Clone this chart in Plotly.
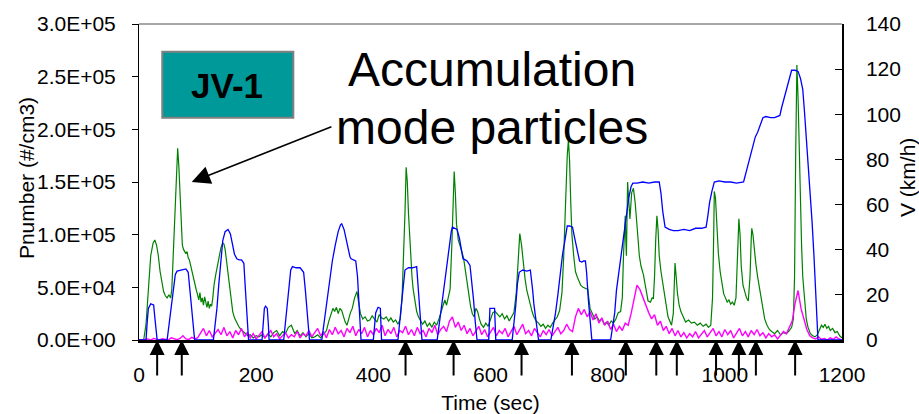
import plotly.graph_objects as go

FONT = "Liberation Sans, Arial, sans-serif"

# Accumulation-mode particle number (#/cm3): (time s, count)
green_points = [
    (0, 0), (8, 0), (12, 15000), (16, 50000), (20, 80000), (24, 92000), (27, 95000), (30, 90000),
    (33, 80000), (36, 65000), (39, 55000), (42, 46000), (45, 42000), (48, 40000), (51, 43000),
    (54, 40000), (56, 48000), (58, 76000), (61, 120000), (64, 160000), (66, 182000), (68, 165000),
    (70, 139000), (72, 110000), (74, 90000), (76, 86000), (78, 84000), (80, 82000), (82, 84000),
    (84, 78000), (86, 76000), (89, 68000), (92, 60000), (95, 52000), (98, 47000), (100, 43000),
    (102, 38000), (104, 45000), (106, 36000), (108, 40000), (110, 33000), (112, 41000), (114, 35000),
    (116, 31000), (118, 37000), (120, 30000), (122, 34000), (124, 32000), (126, 40000), (128, 52000),
    (131, 62000), (134, 70000), (137, 80000), (140, 88000), (143, 92000), (145, 91000), (147, 86000),
    (149, 76000), (151, 66000), (154, 51000), (157, 38000), (160, 27000), (163, 21000), (166, 17000),
    (170, 13000), (174, 10000), (178, 8000), (182, 6000), (186, 4000), (190, 5000), (195, 2000),
    (200, 4000), (205, 3000), (210, 5000), (215, 2000), (220, 6000), (225, 3000), (230, 7000),
    (235, 9000), (240, 4000), (245, 8000), (250, 6000), (255, 12000), (260, 14000), (263, 10000),
    (266, 6000), (270, 9000), (275, 4000), (280, 7000), (285, 3000), (290, 6000), (295, 2000),
    (300, 3000), (305, 5000), (310, 2000), (315, 6000), (320, 9000), (324, 18000), (328, 24000),
    (331, 30000), (334, 27000), (337, 31000), (340, 25000), (343, 30000), (346, 28000), (349, 22000),
    (352, 17000), (355, 14000), (358, 21000), (361, 26000), (364, 30000), (368, 40000), (372, 46000),
    (375, 35000), (378, 25000), (382, 20000), (386, 22000), (390, 18000), (394, 19000), (398, 23000),
    (402, 20000), (406, 17000), (410, 24000), (414, 21000), (418, 20000), (422, 22000), (426, 18000),
    (430, 21000), (434, 17000), (438, 19000), (442, 15000), (446, 20000), (449, 40000), (452, 80000),
    (454, 120000), (456, 164000), (458, 150000), (460, 120000), (462, 95000), (464, 75000),
    (466, 60000), (468, 48000), (471, 35000), (474, 27000), (477, 22000), (480, 19000), (484, 15000),
    (488, 18000), (492, 13000), (496, 16000), (500, 12000), (504, 17000), (508, 14000), (512, 20000),
    (516, 28000), (519, 34000), (522, 38000), (525, 33000), (528, 40000), (531, 48000), (534, 90000),
    (536, 130000), (538, 160000), (540, 140000), (542, 110000), (545, 95000), (548, 88000),
    (551, 84000), (554, 78000), (557, 66000), (560, 52000), (563, 40000), (566, 32000), (569, 25000),
    (572, 22000), (575, 30000), (578, 27000), (581, 20000), (584, 15000), (588, 12000), (592, 16000),
    (596, 13000), (600, 20000), (604, 26000), (608, 27000), (612, 24000), (616, 22000), (620, 25000),
    (624, 20000), (628, 23000), (632, 18000), (636, 22000), (640, 26000), (644, 45000), (647, 80000),
    (650, 101000), (653, 90000), (656, 72000), (659, 58000), (662, 47000), (665, 40000), (668, 32000),
    (671, 27000), (674, 22000), (678, 18000), (682, 16000), (686, 13000), (690, 15000), (694, 11000),
    (698, 14000), (702, 12000), (706, 16000), (710, 19000), (714, 22000), (718, 28000), (722, 45000),
    (725, 80000), (728, 130000), (731, 175000), (733, 190000), (735, 170000), (737, 130000),
    (739, 100000), (742, 80000), (745, 65000), (748, 60000), (751, 55000), (754, 52000), (758, 50000),
    (762, 49000), (766, 48000), (770, 30000), (774, 24000), (778, 20000), (782, 22000), (786, 18000),
    (790, 20000), (794, 15000), (798, 17000), (802, 14000), (806, 18000), (810, 16000), (814, 20000),
    (818, 26000), (822, 27000), (825, 40000), (827, 80000), (829, 110000), (830, 118000), (831, 95000),
    (832, 80000), (834, 150000), (836, 130000), (838, 115000), (841, 140000), (844, 144000),
    (847, 130000), (850, 112000), (852, 95000), (854, 80000), (857, 70000), (861, 62000), (865, 50000),
    (869, 37000), (873, 36000), (876, 40000), (878, 39000), (880, 60000), (882, 95000), (884, 118000),
    (886, 105000), (888, 80000), (891, 65000), (895, 50000), (899, 35000), (903, 22000), (906, 18000),
    (909, 14000), (912, 25000), (914, 60000), (915, 73000), (917, 60000), (919, 45000), (922, 33000),
    (925, 27000), (929, 22000), (933, 17000), (938, 19000), (943, 16000), (948, 17000), (953, 14000),
    (958, 16000), (963, 13000), (968, 15000), (972, 12000), (976, 14000), (979, 40000), (981, 100000),
    (982, 141000), (984, 135000), (986, 110000), (989, 82000), (992, 65000), (995, 52000),
    (998, 44000), (1001, 40000), (1004, 36000), (1007, 38000), (1010, 34000), (1013, 36000),
    (1016, 33000), (1019, 40000), (1022, 80000), (1024, 115000), (1026, 100000), (1028, 70000),
    (1031, 52000), (1034, 45000), (1037, 40000), (1040, 37000), (1043, 60000), (1045, 95000),
    (1046, 106000), (1048, 100000), (1050, 85000), (1053, 72000), (1056, 60000), (1059, 50000),
    (1062, 38000), (1065, 28000), (1068, 20000), (1072, 14000), (1076, 10000), (1080, 8000),
    (1085, 6000), (1090, 9000), (1095, 5000), (1100, 7000), (1105, 6000), (1110, 9000), (1114, 12000),
    (1117, 20000), (1119, 60000), (1121, 180000), (1123, 261000), (1125, 230000), (1127, 175000),
    (1129, 130000), (1131, 90000), (1133, 60000), (1136, 35000), (1139, 20000), (1142, 12000),
    (1146, 6000), (1150, 4000), (1154, 3000), (1158, 5000), (1162, 10000), (1165, 14000),
    (1168, 12000), (1171, 15000), (1174, 11000), (1177, 13000), (1180, 9000), (1184, 11000),
    (1188, 7000), (1192, 8000), (1196, 4000), (1200, 2000),
]

# Nucleation-mode particle number (#/cm3), sampled every 5 s from 0 to 1200 s
magenta_step = 5
magenta_count = [
    0, 0, 500, 1000, 0, 1500, 800, 0, 1200, 600, 0, 2000, 900, 300, 1500, 4000, 1000, 500, 2500, 1200,
    2000, 6000, 11000, 4000, 9000, 3000, 7000, 10000, 5000, 12000, 4000, 8000, 2000, 9000, 5000, 11000, 3000, 7000, 2000, 6000,
    1000, 4000, 8000, 2000, 5000, 9000, 3000, 6000, 1000, 4000, 7000, 2000, 5000, 3000, 8000, 2000, 6000, 4000, 9000, 3000,
    7000, 11000, 4000, 8000, 2000, 10000, 5000, 12000, 6000, 9000, 3000, 11000, 7000, 13000, 4000, 10000, 6000, 12000, 3000, 9000,
    5000, 11000, 7000, 14000, 4000, 10000, 6000, 12000, 3000, 9000, 7000, 13000, 5000, 10000, 4000, 12000, 6000, 9000, 3000, 11000,
    7000, 14000, 5000, 10000, 13000, 8000, 18000, 22000, 12000, 17000, 9000, 14000, 6000, 11000, 4000, 9000, 13000, 5000, 10000, 3000,
    8000, 12000, 4000, 9000, 6000, 11000, 3000, 8000, 13000, 5000, 10000, 15000, 6000, 9000, 4000, 11000, 7000, 3000, 9000, 5000,
    10000, 4000, 8000, 12000, 6000, 9000, 15000, 10000, 8000, 22000, 30000, 24000, 29000, 22000, 27000, 19000, 25000, 16000, 21000, 14000,
    18000, 10000, 15000, 8000, 13000, 9000, 16000, 14000, 25000, 38000, 52000, 48000, 40000, 33000, 26000, 20000, 24000, 14000, 18000, 9000,
    13000, 6000, 11000, 4000, 9000, 3000, 7000, 2000, 6000, 3000, 8000, 2000, 5000, 9000, 3000, 7000, 11000, 4000, 8000, 3000,
    10000, 5000, 9000, 2000, 7000, 11000, 4000, 8000, 3000, 9000, 5000, 10000, 4000, 7000, 2000, 6000, 3000, 5000, 1000, 4000,
    8000, 6000, 12000, 18000, 35000, 47000, 30000, 20000, 10000, 4000, 2000, 1000, 3000, 500, 1500, 0, 2000, 500, 3000, 1000,
    0,
]
magenta_time = [i * magenta_step for i in range(len(magenta_count))]

# Vehicle speed (km/h): (time s, speed)
speed_points = [
    (0, 0), (12, 0), (14, 8), (16, 14), (20, 16), (25, 15.5), (27, 10), (29, 4), (31, 0),
    (48, 0), (52, 8), (55, 15), (59, 24), (62, 29), (65, 30.5), (72, 31), (80, 31.5), (84, 30),
    (87, 22), (90, 12), (93, 4), (95, 0),
    (127, 0), (130, 6), (133, 14), (136, 24), (139, 32), (143, 44), (147, 48), (152, 49), (156, 47),
    (160, 42), (163, 38), (167, 36), (171, 35.5), (175, 35.5), (179, 34), (181, 25), (183, 15),
    (185, 6), (187, 0),
    (210, 0), (212, 8), (214, 14), (216, 15), (219, 14), (221, 6), (222, 0),
    (247, 0), (250, 8), (253, 16), (256, 26), (259, 31), (262, 32.5), (268, 32), (275, 32), (281, 30),
    (284, 22), (287, 12), (291, 0),
    (312, 0), (316, 8), (320, 15), (325, 25), (330, 35), (335, 42), (340, 48), (344, 51), (346, 51.5),
    (350, 49), (353, 45), (356, 41), (360, 37), (362, 36), (366, 35.5), (370, 35), (373, 28),
    (376, 14), (379, 0),
    (400, 0), (402, 6), (404, 12), (408, 14.5), (412, 14), (414, 0),
    (442, 0), (445, 8), (448, 16), (451, 25), (454, 31), (460, 32), (467, 32), (474, 32.5), (476, 26),
    (478, 20), (481, 8), (483, 0),
    (509, 0), (512, 6), (515, 12), (519, 20), (522, 28), (526, 36), (530, 44), (533, 48), (535, 50),
    (540, 49.5), (543, 49), (547, 45), (550, 40), (553, 36), (557, 35.5), (560, 35), (565, 33),
    (568, 26), (571, 18), (574, 8), (577, 0),
    (597, 0), (598, 7), (599, 14), (607, 14), (608, 7), (609, 0),
    (637, 0), (640, 7), (643, 15), (646, 25), (649, 30), (655, 31), (662, 30.5), (668, 31), (670, 27),
    (672, 22), (674, 16), (677, 10), (680, 4), (682, 0),
    (703, 0), (707, 6), (711, 12), (715, 20), (719, 30), (723, 38), (727, 44), (731, 50.5),
    (735, 50.5), (740, 50), (743, 46), (746, 42), (749, 38), (752, 35), (756, 34.5), (759, 35),
    (762, 35), (764, 30), (767, 18), (770, 8), (773, 0),
    (805, 0), (809, 6), (812, 12), (815, 22), (819, 30), (823, 38), (827, 45), (831, 53), (836, 63),
    (840, 68), (843, 69.5), (850, 69.5), (860, 70), (870, 69.5), (880, 70), (888, 70), (891, 65),
    (894, 57), (898, 50), (905, 49), (912, 48.5), (920, 48.5), (930, 49), (940, 48.5), (950, 49.5),
    (960, 49.5), (968, 50), (971, 55), (974, 61), (978, 66), (982, 70), (990, 70.5), (1000, 70),
    (1010, 70), (1020, 69.5), (1032, 70), (1036, 74), (1040, 78), (1044, 83), (1048, 87), (1052, 90),
    (1056, 92), (1060, 95), (1065, 98.5), (1070, 99), (1078, 98.5), (1085, 98.5), (1094, 99.5),
    (1097, 103), (1100, 106), (1104, 110), (1108, 114), (1112, 118), (1114, 119.5), (1120, 119.5),
    (1125, 119), (1129, 116), (1133, 111), (1136, 101), (1139, 90), (1142, 81), (1146, 66),
    (1149, 52), (1152, 38), (1155, 22), (1158, 6), (1159, 0), (1200, 0),
]

# Times of the marked acceleration events (s)
event_times = [31, 73, 455, 537, 653, 739, 831, 883, 918, 985, 1024, 1053, 1120]

left_ticks = [0, 50000, 100000, 150000, 200000, 250000, 300000]
left_tick_text = ["0.0E+00", "5.0E+04", "1.0E+05", "1.5E+05", "2.0E+05", "2.5E+05", "3.0E+05"]
right_ticks = [0, 20, 40, 60, 80, 100, 120, 140]
time_ticks = [0, 200, 400, 600, 800, 1000, 1200]

green_time = [p[0] for p in green_points]
green_count = [p[1] for p in green_points]
speed_time = [p[0] for p in speed_points]
speed_kmh = [p[1] for p in speed_points]

fig = go.Figure()
fig.add_trace(go.Scatter(x=green_time, y=green_count, mode="lines",
                         line=dict(color="#008000", width=1.2), yaxis="y"))
fig.add_trace(go.Scatter(x=magenta_time, y=magenta_count, mode="lines",
                         line=dict(color="#FF00FF", width=1.4), yaxis="y"))
fig.add_trace(go.Scatter(x=speed_time, y=speed_kmh, mode="lines",
                         line=dict(color="#0000FF", width=1.3), yaxis="y2"))

annotations = []
for t in event_times:
    annotations.append(dict(
        x=t, xref="x", y=0, yref="paper", ax=0, ay=37, axref="pixel", ayref="pixel",
        text="", showarrow=True, arrowhead=2, arrowsize=1.5, arrowwidth=2,
        arrowcolor="black", standoff=0,
    ))

# Callout pointing at the first accumulation-mode peak
annotations.append(dict(
    x=90, y=150000, xref="x", yref="y", ax=331, ay=203000, axref="x", ayref="y",
    text="", showarrow=True, arrowhead=2, arrowsize=2.3, arrowwidth=1.6,
    arrowcolor="black", standoff=0,
))
annotations.append(dict(
    x=0.502, y=0.856, xref="paper", yref="paper", text="Accumulation",
    showarrow=False, font=dict(family=FONT, size=48, color="black"),
    xanchor="center", yanchor="middle",
))
annotations.append(dict(
    x=0.502, y=0.674, xref="paper", yref="paper", text="mode particles",
    showarrow=False, font=dict(family=FONT, size=48, color="black"),
    xanchor="center", yanchor="middle",
))
annotations.append(dict(
    x=0.1245, y=0.806, xref="paper", yref="paper", text="<b>JV-1</b>",
    showarrow=False, font=dict(family=FONT, size=35, color="black"),
    xanchor="center", yanchor="middle",
))
# Axis titles
annotations.append(dict(
    x=-0.159, y=0.513, xref="paper", yref="paper", text="Pnumber (#/cm3)", textangle=-90,
    showarrow=False, font=dict(family=FONT, size=21, color="black"),
    xanchor="center", yanchor="middle",
))
annotations.append(dict(
    x=1.094, y=0.513, xref="paper", yref="paper", text="V (km/h)", textangle=-90,
    showarrow=False, font=dict(family=FONT, size=21, color="black"),
    xanchor="center", yanchor="middle",
))

shapes = [
    dict(type="rect", xref="paper", yref="paper", x0=0.0331, x1=0.2195, y0=0.7035, y1=0.9123,
         fillcolor="#009999", line=dict(color="#808080", width=2)),
    dict(type="line", xref="paper", yref="paper", x0=0, x1=1, y0=1, y1=1,
         line=dict(color="#505050", width=1)),
]

fig.update_layout(
    width=919, height=414,
    margin=dict(l=139, r=77, t=24, b=74, autoexpand=False),
    paper_bgcolor="white", plot_bgcolor="white",
    showlegend=False,
    font=dict(family=FONT, size=21, color="black"),
    xaxis=dict(
        range=[0, 1200], tickvals=time_ticks, ticks="", showgrid=False, zeroline=False,
        showline=True, linecolor="black", linewidth=2.5, automargin=False,
        ticklabelstandoff=14,
        title=dict(text="Time (sec)", font=dict(size=21), standoff=11),
    ),
    yaxis=dict(
        range=[0, 300000], tickvals=left_ticks, ticktext=left_tick_text,
        ticks="outside", ticklen=6, tickcolor="black", showgrid=False, zeroline=False,
        showline=True, linecolor="black", linewidth=1, ticklabelstandoff=12, automargin=False,
    ),
    yaxis2=dict(
        range=[0, 140], tickvals=right_ticks, overlaying="y", side="right",
        ticks="inside", ticklen=7, tickcolor="black", showgrid=False, zeroline=False,
        showline=True, linecolor="black", linewidth=1.5, ticklabelstandoff=18, automargin=False,
    ),
    annotations=annotations,
    shapes=shapes,
)

fig.write_html("out.html")
